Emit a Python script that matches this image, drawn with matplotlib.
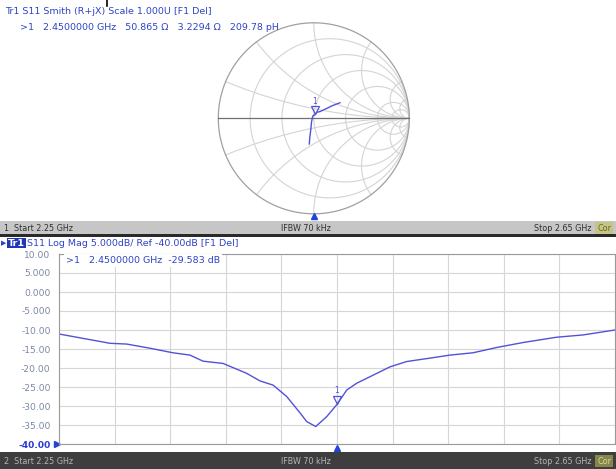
import numpy as np
import matplotlib
matplotlib.use("Agg")
import matplotlib.pyplot as plt
from matplotlib.lines import Line2D
from matplotlib.patches import Rectangle
from matplotlib.transforms import offset_copy

freq_ghz = [2.25, 2.2867, 2.2987, 2.3155, 2.332, 2.3442, 2.3536, 2.368, 2.385,
            2.3946, 2.404, 2.4138, 2.4236, 2.4282, 2.4347, 2.4426, 2.45, 2.457,
            2.4642, 2.4737, 2.4881, 2.5001, 2.5169, 2.5313, 2.5478, 2.5649,
            2.5838, 2.608, 2.627, 2.65]
s11_db = [-11.05, -13.5, -13.7, -14.8, -16.0, -16.6, -18.2, -18.8, -21.4,
          -23.4, -24.5, -27.5, -31.9, -34.1, -35.4, -32.8, -29.58, -25.8,
          -24.0, -22.3, -19.7, -18.3, -17.4, -16.6, -16.0, -14.6, -13.3,
          -11.9, -11.3, -10.0]

# smith trace (reflection coefficient)
gamma_re = [-0.047, -0.042, -0.032, -0.024, -0.012, 0.0, 0.009, 0.03, 0.065,
            0.10, 0.145, 0.187, 0.23, 0.274]
gamma_im = [-0.269, -0.20, -0.123, -0.04, 0.02, 0.035, 0.032, 0.063, 0.07,
            0.087, 0.108, 0.129, 0.146, 0.163]

marker_freq = 2.45
marker_db = -29.583
marker_r, marker_x = 50.865, 3.2294
z0 = 50.0

y_ticks = [10, 5, 0, -5, -10, -15, -20, -25, -30, -35, -40]
y_labels = ["10.00", "5.000", "0.000", "-5.000", "-10.00", "-15.00", "-20.00",
            "-25.00", "-30.00", "-35.00", "-40.00"]
x_start, x_stop = 2.25, 2.65

smith_r = [0.2, 0.5, 1, 2, 5, 10]
smith_x = [0.2, 0.5, 1, 2, 5, 10]

# --- layout helpers (pixel coords, origin top-left) ---
W, H = 616, 469
BLUE = "#2f44c4"
TRACE = "#5252d6"


def fx(x):
    return x / W


def fy(y):
    return 1 - y / H


def box(x0, y0, x1, y1):
    return [x0 / W, 1 - y1 / H, (x1 - x0) / W, (y1 - y0) / H]


fig = plt.figure(figsize=(W / 100, H / 100), dpi=100)
fig.patch.set_facecolor("white")

# status bars
fig.add_artist(Rectangle((0, fy(234)), 1, (234 - 221) / H, transform=fig.transFigure,
                         color="#c6c6c6", lw=0))
fig.add_artist(Rectangle((0, fy(237)), 1, 3 / H, transform=fig.transFigure,
                         color="#2a2a2a", lw=0))
fig.add_artist(Rectangle((0, 0), 1, (469 - 452) / H, transform=fig.transFigure,
                         color="#3e3e3e", lw=0))
fig.add_artist(Line2D([fx(107), fx(107)], [fy(0), fy(6)], transform=fig.transFigure,
                      color="black", lw=1.2))

fs = 6.8
fig.text(fx(5), fy(11), "Tr1 S11 Smith (R+jX) Scale 1.000U [F1 Del]",
         color=BLUE, fontsize=fs, va="center")
fig.text(fx(20), fy(28),
         ">1   2.4500000 GHz   %.3f Ω   %.4f Ω   209.78 pH" % (marker_r, marker_x),
         color=BLUE, fontsize=fs, va="center")

# top status bar text
fig.text(fx(4), fy(228), "1  Start 2.25 GHz", color="#303030", fontsize=5.8, va="center")
fig.text(fx(306), fy(228), "IFBW 70 kHz", color="#303030", fontsize=5.8, va="center", ha="center")
fig.text(fx(592), fy(228), "Stop 2.65 GHz", color="#303030", fontsize=5.8, va="center", ha="right")
fig.text(fx(597), fy(228), "Cor", color="#6a6a20", fontsize=5.8, va="center",
         bbox=dict(facecolor="#c4c488", edgecolor="none", pad=1.2))

# bottom status bar text
fig.text(fx(4), fy(461), "2  Start 2.25 GHz", color="#b4b4b4", fontsize=5.8, va="center")
fig.text(fx(306), fy(461), "IFBW 70 kHz", color="#b4b4b4", fontsize=5.8, va="center", ha="center")
fig.text(fx(592), fy(461), "Stop 2.65 GHz", color="#b4b4b4", fontsize=5.8, va="center", ha="right")
fig.text(fx(597), fy(461), "Cor", color="#d8d8a0", fontsize=5.8, va="center",
         bbox=dict(facecolor="#86864a", edgecolor="none", pad=1.2))

# bottom header
fig.text(fx(1), fy(243), "▶", color=BLUE, fontsize=5, va="center")
fig.text(fx(8), fy(243), "Tr1", color="white", fontsize=fs, va="center", fontweight="bold",
         bbox=dict(facecolor="#2236b8", edgecolor="none", pad=0.6))
fig.text(fx(27), fy(243), "S11 Log Mag 5.000dB/ Ref -40.00dB [F1 Del]",
         color=BLUE, fontsize=fs, va="center")

# --- Smith chart ---
cx, cy, rad = 313.8, 118.3, 95.5
pad = 100
sax = fig.add_axes(box(cx - pad, cy - pad, cx + pad, cy + pad))
lim = pad / rad
sax.set_xlim(-lim, lim)
sax.set_ylim(-lim, lim)
sax.set_aspect("equal")
sax.axis("off")

grid_c = "#d4d4d4"
t = np.linspace(0, 2 * np.pi, 400)
for r in smith_r:
    c = r / (1 + r)
    rr = 1 / (1 + r)
    sax.plot(c + rr * np.cos(t), rr * np.sin(t), color=grid_c, lw=0.8)
rvals = np.concatenate([np.linspace(0, 1, 200), np.logspace(0, 3, 300)])
for xv in smith_x:
    for sgn in (1, -1):
        z = rvals + 1j * sgn * xv
        g = (z - 1) / (z + 1)
        sax.plot(g.real, g.imag, color=grid_c, lw=0.8)
sax.plot(np.cos(t), np.sin(t), color="#a0a0a0", lw=0.9)
sax.plot([-1, 1], [0, 0], color="#707070", lw=0.9)

sax.plot(gamma_re, gamma_im, color=TRACE, lw=1.0)
zm = complex(marker_r, marker_x) / z0
gm = (zm - 1) / (zm + 1)
mk_tr = offset_copy(sax.transData, fig=fig, x=0, y=3.5, units="points")
sax.plot([gm.real], [gm.imag], marker="v", ms=6, mfc="none", mec=TRACE, mew=0.9,
         transform=mk_tr)
sax.text(gm.real, gm.imag, "1", color=TRACE, fontsize=5.5, ha="center", va="bottom",
         transform=offset_copy(sax.transData, fig=fig, x=0, y=7, units="points"))
fig.add_artist(Line2D([fx(314)], [fy(216.5)], marker="^", ms=5, color="#2244dd",
                      transform=fig.transFigure, lw=0))

# --- Log Mag plot ---
ax = fig.add_axes(box(59, 254, 615, 444))
ax.plot(freq_ghz, s11_db, color=TRACE, lw=1.0)
ax.set_xlim(x_start, x_stop)
ax.set_ylim(-40, 10)
ax.set_xticks(np.linspace(x_start, x_stop, 11))
ax.set_xticklabels([])
ax.set_yticks(y_ticks)
ax.set_yticklabels(y_labels, fontsize=6.6, color="#7c88a4")
ax.tick_params(length=0, pad=6)
ax.get_yticklabels()[-1].set_color("#2a3cd0")
ax.get_yticklabels()[-1].set_fontweight("bold")
ax.grid(True, color="#d6d6d6", lw=0.8)
for sp in ax.spines.values():
    sp.set_color("#9a9a9a")
    sp.set_linewidth(0.8)

ax.plot([marker_freq], [marker_db], marker="v", ms=6, mfc="none", mec=TRACE, mew=0.9,
        transform=offset_copy(ax.transData, fig=fig, x=0, y=3.5, units="points"))
ax.text(marker_freq, marker_db, "1", color=TRACE, fontsize=5.5, ha="center", va="bottom",
        transform=offset_copy(ax.transData, fig=fig, x=0, y=7, units="points"))
ax.plot([marker_freq], [-40], marker="^", ms=5, color="#2244dd", clip_on=False,
        transform=offset_copy(ax.transData, fig=fig, x=0, y=-3, units="points"))
ax.plot([x_start], [-40], marker=">", ms=5, color="#2244dd", clip_on=False,
        transform=offset_copy(ax.transData, fig=fig, x=-1.5, y=0, units="points"))
ax.text(0.013, 0.965, ">1   2.4500000 GHz  %.3f dB" % marker_db, transform=ax.transAxes,
        color=BLUE, fontsize=fs, va="center",
        bbox=dict(facecolor="white", edgecolor="none", pad=1.5))

fig.savefig("out.png", dpi=100)
